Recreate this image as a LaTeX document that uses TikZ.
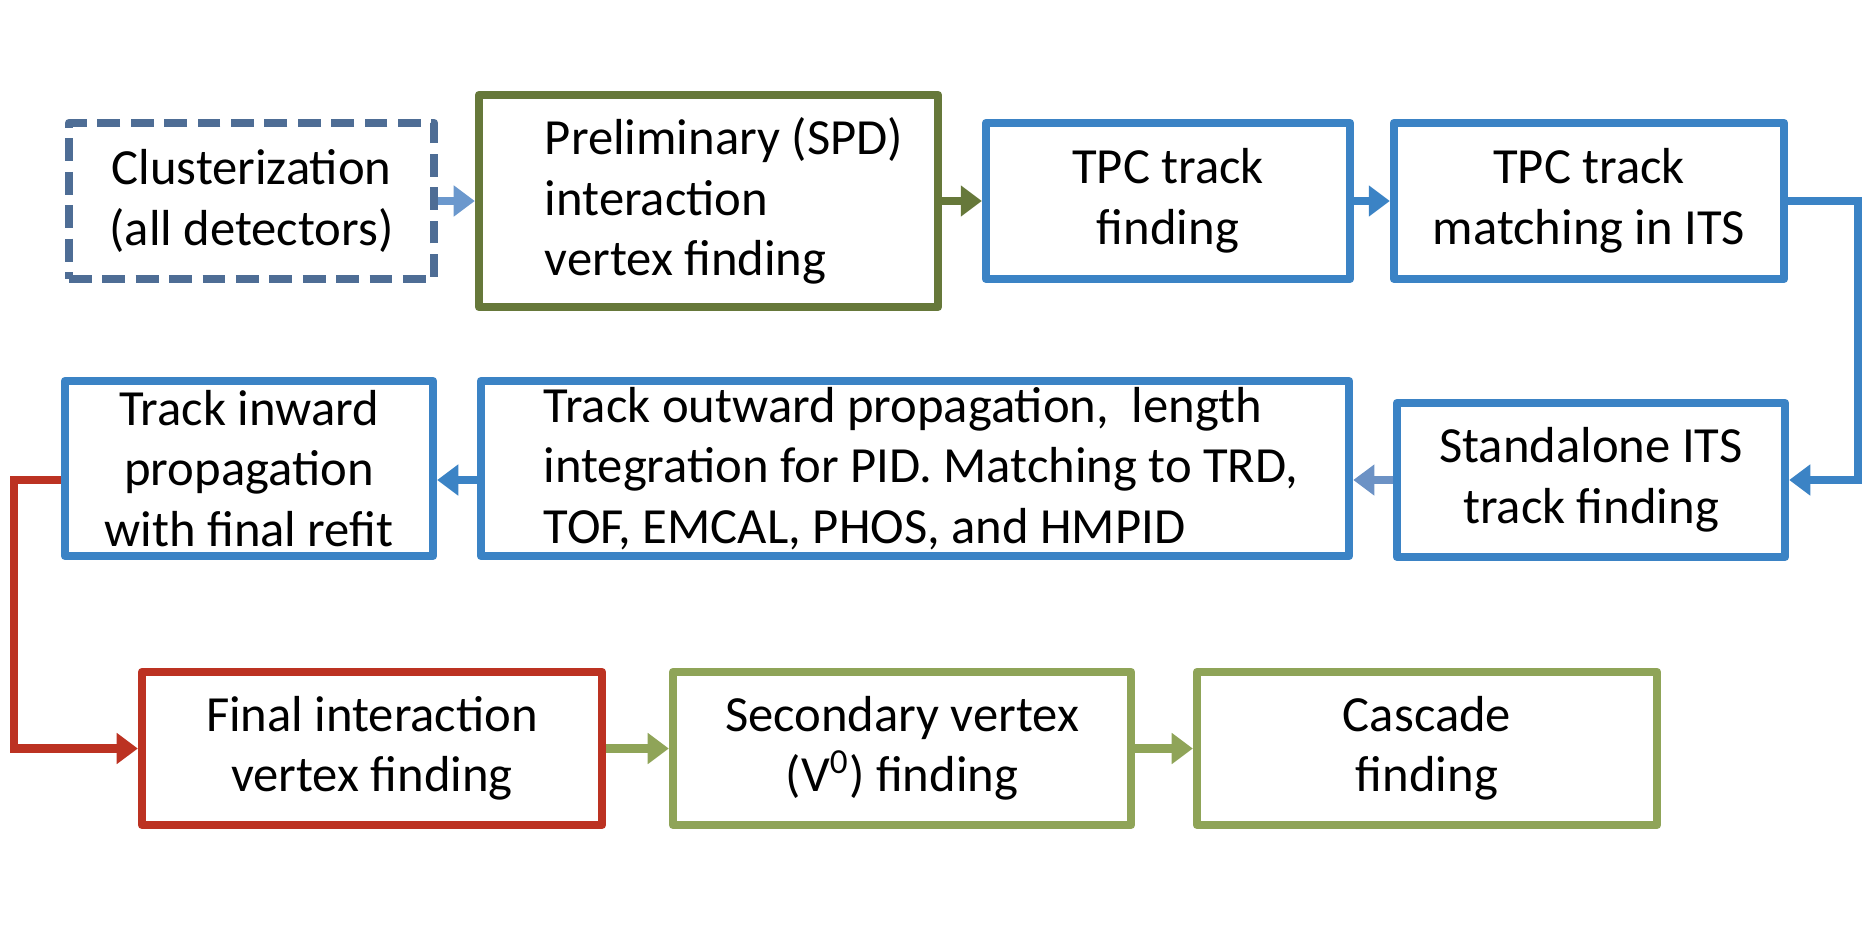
\documentclass[tikz,border=0pt]{standalone}
\usepackage{fontspec}
\setmainfont{Carlito}
\usetikzlibrary{arrows.meta}

\definecolor{cluster edge}{HTML}{4E6D95}
\definecolor{spd edge}{HTML}{66783A}
\definecolor{track edge}{HTML}{3B83C5}
\definecolor{final edge}{HTML}{BC3222}
\definecolor{vertex edge}{HTML}{8FA458}
\definecolor{pale arrow}{HTML}{6B98CD}
\definecolor{its arrow}{HTML}{6C92C5}
\tikzset{stage/.style={draw=track edge, line width=2.3pt, line join=round, fill=white,
        align=center, inner sep=0pt, font=\fontsize{14.4}{17.2}\selectfont},
    flow/.style={line width=2.3pt, -{Triangle[length=6pt,width=8.5pt]}}}

\begin{document}
\begin{tikzpicture}[x=0.01cm, y=-0.01cm]
    \useasboundingbox (0,0) rectangle (1876,924);

    % first row
    \node[stage, draw=cluster edge, dash pattern=on 6.5pt off 3pt,
        minimum width=3.65cm, minimum height=1.56cm] (clust) at (251.5,201)
        {Clusterization\\(all detectors)};
    \node[stage, draw=spd edge, minimum width=4.59cm, minimum height=2.12cm,
        text width=4.19cm, align=flush left] (spd) at (708.5,201)
        {\leftskip=0.46cm Preliminary (SPD)\\interaction\\vertex finding\par};
    \node[stage, minimum width=3.64cm, minimum height=1.56cm] (tpc) at (1168,201)
        {TPC track\\finding};
    \node[stage, minimum width=3.90cm, minimum height=1.56cm] (match) at (1589,201)
        {TPC track\\matching in ITS};

    % second row
    \node[stage, minimum width=3.88cm, minimum height=1.54cm] (its) at (1591,480)
        {Standalone ITS\\track finding};
    \node[stage, minimum width=8.68cm, minimum height=1.75cm,
        text width=8.28cm, align=flush left] (outward) at (915,468.5)
        {\leftskip=0.43cm Track outward propagation,~ length\\integration for PID. Matching to TRD,\\TOF, EMCAL, PHOS, and HMPID\par};
    \node[stage, minimum width=3.68cm, minimum height=1.75cm] (inward) at (249,468.5)
        {Track inward\\propagation\\with final refit};

    % third row
    \node[stage, draw=final edge, minimum width=4.60cm, minimum height=1.53cm] (final) at (372,748.5)
        {Final interaction\\vertex finding};
    \node[stage, draw=vertex edge, minimum width=4.58cm, minimum height=1.53cm] (v0) at (902,748.5)
        {Secondary vertex\\(V\textsuperscript{0}) finding};
    \node[stage, draw=vertex edge, minimum width=4.60cm, minimum height=1.53cm] (cascade) at (1427,748.5)
        {Cascade\\finding};

    \coordinate (right turn) at (1858,201);
    \coordinate (left turn) at (14,480);

    \draw[flow, draw=pale arrow] (clust) -- (spd);
    \draw[flow, draw=spd edge] (spd) -- (tpc);
    \draw[flow, draw=track edge] (tpc) -- (match);
    \draw[flow, draw=track edge] (match.east) -- (right turn) |- (its.east);
    \draw[flow, draw=its arrow] (its.west) -- (outward.east |- its.west);
    \draw[flow, draw=track edge] (outward.west |- its.west) -- (inward.east |- its.west);
    \draw[flow, draw=final edge] (inward.west |- its.west) -- (left turn) |- (final.west);
    \draw[flow, draw=vertex edge] (final) -- (v0);
    \draw[flow, draw=vertex edge] (v0) -- (cascade);
\end{tikzpicture}
\end{document}
